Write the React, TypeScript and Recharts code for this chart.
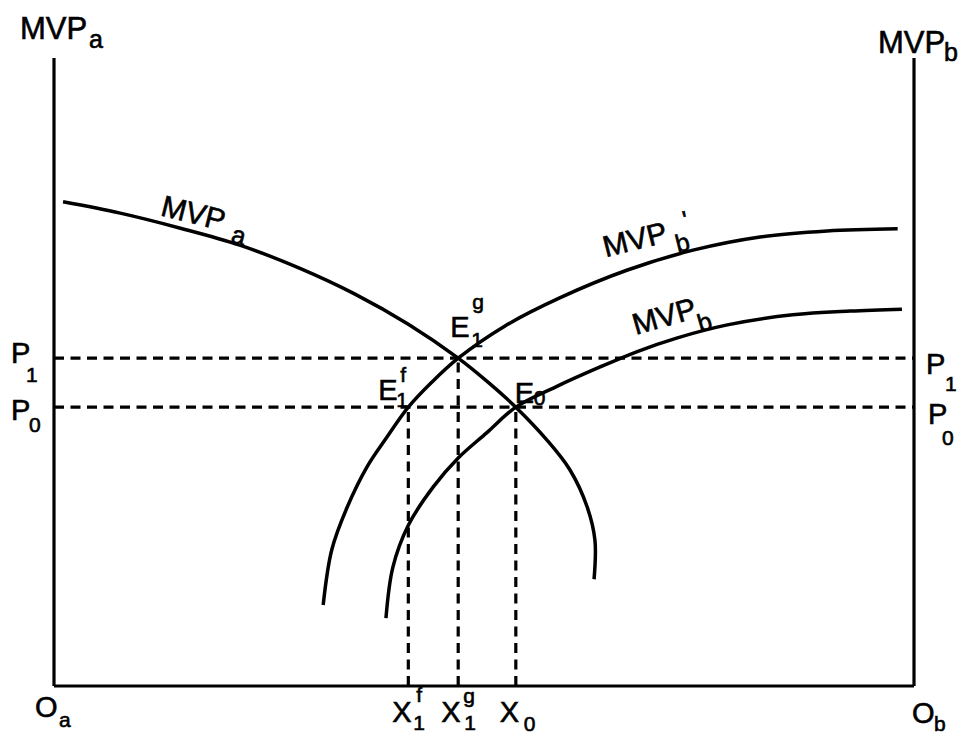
import React from 'react';
import { LineChart, Line, XAxis, YAxis, ReferenceLine, ReferenceDot } from 'recharts';

// curves, x: 0..100 from O_a to O_b, y: 0..100 bottom to top
const mvpA = [
  { x: 1.05, y: 77.1 }, { x: 7.7, y: 75.3 }, { x: 14.7, y: 72.9 }, { x: 21.6, y: 70.2 },
  { x: 28.6, y: 66.5 }, { x: 35.0, y: 62.4 }, { x: 41.2, y: 57.6 }, { x: 47.0, y: 52.2 },
  { x: 50.7, y: 48.1 }, { x: 53.7, y: 44.4 }, { x: 57.3, y: 39.2 }, { x: 60.0, y: 34.4 },
  { x: 62.0, y: 28.5 }, { x: 62.9, y: 23.2 }, { x: 62.8, y: 17.0 },
];
const mvpBPrime = [
  { x: 31.3, y: 12.9 }, { x: 32.3, y: 21.7 }, { x: 34.1, y: 28.5 }, { x: 36.4, y: 34.9 },
  { x: 38.7, y: 39.6 }, { x: 41.2, y: 44.4 }, { x: 43.95, y: 48.4 }, { x: 47.0, y: 52.2 },
  { x: 52.4, y: 57.3 }, { x: 58.8, y: 61.8 }, { x: 66.6, y: 66.2 }, { x: 74.3, y: 69.4 },
  { x: 82.1, y: 71.5 }, { x: 89.9, y: 72.45 }, { x: 98.1, y: 72.8 },
];
const mvpB = [
  { x: 38.6, y: 10.8 }, { x: 39.4, y: 18.9 }, { x: 41.2, y: 25.6 }, { x: 44.1, y: 31.7 },
  { x: 47.0, y: 36.3 }, { x: 50.3, y: 40.3 }, { x: 53.7, y: 44.4 }, { x: 58.3, y: 47.6 },
  { x: 63.5, y: 50.8 }, { x: 67.9, y: 53.3 }, { x: 72.4, y: 55.4 }, { x: 78.3, y: 57.5 },
  { x: 85.9, y: 59.1 }, { x: 92.6, y: 59.7 }, { x: 98.6, y: 60.0 },
];

const P0 = 44.4;
const P1 = 52.2;
const X1f = 41.2;
const X1g = 47.0;
const X0 = 53.7;

const priceTicks = [P0, P1];
const priceText = [['P', '0', ''], ['P', '1', '']];
const xTicks = [0, X1f, X1g, X0, 100];
const xText = [['O', 'a', ''], ['X', '1', 'f'], ['X', '1', 'g'], ['X', '0', ''], ['O', 'b', '']];

const points = [
  { x: X1g, y: P1, text: ['E', '1', 'g'] },
  { x: X1f, y: P0, text: ['E', '1', 'f'] },
  { x: X0, y: P0, text: ['E', '0', ''] },
];
const curveNames = [
  { x: 14.7, y: 72.9, text: ['MVP', 'a', ''] },
  { x: 66.6, y: 66.2, text: ['MVP', 'b', "'"] },
  { x: 72.4, y: 55.4, text: ['MVP', 'b', ''] },
];
const titles = [
  { x: 0, y: 100, text: ['MVP', 'a', ''] },
  { x: 100, y: 100, text: ['MVP', 'b', ''] },
];

// layout: offsets in px from the anchor, base / sub / sup
type Lay = { b: number[]; s?: number[]; p?: number[]; dx?: number; dy?: number; rot?: number };
const xTickLay: Lay[] = [
  { b: [-19, 31], s: [5, 41] },
  { b: [-16, 36], s: [5, 44], p: [8, 16] },
  { b: [-17, 36], s: [6, 44], p: [5, 17] },
  { b: [-16, 36], s: [8, 45] },
  { b: [-2, 37], s: [20, 45] },
];
const leftTickLay: Lay[] = [
  { b: [-43, 13], s: [-25, 25] },
  { b: [-43, 5], s: [-28, 24] },
];
const rightTickLay: Lay[] = [
  { b: [14, 17], s: [28, 38] },
  { b: [12, 16], s: [31, 33] },
];
const pointLay: Lay[] = [
  { b: [-8, -21], s: [13, -11], p: [14, -49] },
  { b: [-30, -7], s: [-12, 0], p: [-8, -25] },
  { b: [-1, -4], s: [18, -2] },
];
const curveLay: Lay[] = [
  { dx: -21, dy: -13, rot: 14, b: [0, 0], s: [75, 9] },
  { dx: -21, dy: -13, rot: -14, b: [0, 0], s: [71, 13], p: [84, -8] },
  { dx: -41, dy: -3, rot: -16, b: [0, 0], s: [63, 15] },
];
const titleLay: Lay[] = [
  { b: [-34, -19], s: [35, -10] },
  { b: [-36, -5], s: [30, 3] },
];

const FONT = '"Liberation Sans", Arial, Helvetica, sans-serif';

// centripetal Catmull-Rom curve factory, passed to Line's type
const catmullRom = (context: any) => {
  let xs: number[] = [];
  let ys: number[] = [];
  return {
    areaStart() {},
    areaEnd() {},
    lineStart() { xs = []; ys = []; },
    point(x: number, y: number) { xs.push(+x); ys.push(+y); },
    lineEnd() {
      const n = xs.length;
      if (!n) return;
      context.moveTo(xs[0], ys[0]);
      const d = (a: number, b: number) => Math.hypot(xs[b] - xs[a], ys[b] - ys[a]);
      for (let i = 0; i < n - 1; i++) {
        const i0 = i > 0 ? i - 1 : i;
        const i3 = i + 2 < n ? i + 2 : i + 1;
        const l01s = d(i0, i), l12s = d(i, i + 1), l23s = d(i + 1, i3);
        const l01 = Math.sqrt(l01s), l12 = Math.sqrt(l12s), l23 = Math.sqrt(l23s);
        let c1x = xs[i], c1y = ys[i], c2x = xs[i + 1], c2y = ys[i + 1];
        if (l01 > 1e-6) {
          const a = 2 * l01s + 3 * l01 * l12 + l12s;
          const m = 3 * l01 * (l01 + l12);
          c1x = (xs[i] * a - xs[i0] * l12s + xs[i + 1] * l01s) / m;
          c1y = (ys[i] * a - ys[i0] * l12s + ys[i + 1] * l01s) / m;
        }
        if (l23 > 1e-6) {
          const b = 2 * l23s + 3 * l23 * l12 + l12s;
          const m = 3 * l23 * (l23 + l12);
          c2x = (xs[i + 1] * b + xs[i] * l23s - xs[i3] * l12s) / m;
          c2y = (ys[i + 1] * b + ys[i] * l23s - ys[i3] * l12s) / m;
        }
        context.bezierCurveTo(c1x, c1y, c2x, c2y, xs[i + 1], ys[i + 1]);
      }
    },
  };
};

const Glyphs = ({ x, y, text, lay, fb, fs, fp }: {
  x: number; y: number; text: string[]; lay: Lay; fb: number; fs: number; fp?: number;
}) => (
  <g
    transform={`translate(${x + (lay.dx || 0)},${y + (lay.dy || 0)}) rotate(${lay.rot || 0})`}
    fontFamily={FONT}
    fill="#000"
    stroke="#000"
    strokeWidth={0.6}
  >
    <text x={lay.b[0]} y={lay.b[1]} fontSize={fb}>{text[0]}</text>
    {text[1] && lay.s && <text x={lay.s[0]} y={lay.s[1]} fontSize={fs}>{text[1]}</text>}
    {text[2] && lay.p && <text x={lay.p[0]} y={lay.p[1]} fontSize={fp || fs}>{text[2]}</text>}
  </g>
);

const XTick = (props: any) => {
  const i = xTicks.indexOf(props.payload.value);
  if (i < 0) return null;
  return <Glyphs x={props.x} y={props.y} text={xText[i]} lay={xTickLay[i]} fb={29} fs={21} />;
};
const LeftTick = (props: any) => {
  const i = priceTicks.indexOf(props.payload.value);
  if (i < 0) return null;
  return <Glyphs x={props.x} y={props.y} text={priceText[i]} lay={leftTickLay[i]} fb={29} fs={21} />;
};
const RightTick = (props: any) => {
  const i = priceTicks.indexOf(props.payload.value);
  if (i < 0) return null;
  return <Glyphs x={props.x} y={props.y} text={priceText[i]} lay={rightTickLay[i]} fb={29} fs={21} />;
};

const axisLine = { stroke: '#000', strokeWidth: 3.2 };
const dash = '10 6.5';

export default function App() {
  return (
    <div>
      <style>{'body{margin:0}'}</style>
      <LineChart width={961} height={734} margin={{ top: 58, right: 0, bottom: 0, left: 0 }}>
        <XAxis
          type="number"
          dataKey="x"
          domain={[0, 100]}
          ticks={xTicks}
          interval={0}
          tickSize={0}
          tickMargin={0}
          tickLine={false}
          height={48}
          axisLine={axisLine}
          tick={XTick}
          allowDataOverflow
        />
        <YAxis
          yAxisId="left"
          type="number"
          domain={[0, 100]}
          ticks={priceTicks}
          interval={0}
          tickSize={0}
          tickMargin={0}
          tickLine={false}
          width={54}
          axisLine={axisLine}
          tick={LeftTick}
          allowDataOverflow
        />
        <YAxis
          yAxisId="right"
          orientation="right"
          type="number"
          domain={[0, 100]}
          ticks={priceTicks}
          interval={0}
          tickSize={0}
          tickMargin={0}
          tickLine={false}
          width={47}
          axisLine={axisLine}
          tick={RightTick}
          allowDataOverflow
        />

        {priceTicks.map((p) => (
          <ReferenceLine key={`h${p}`} yAxisId="left" y={p} stroke="#000" strokeWidth={3.2} strokeDasharray={dash} />
        ))}
        {points.map((pt, i) => (
          <ReferenceLine
            key={`v${i}`}
            yAxisId="left"
            segment={[{ x: pt.x, y: 0 }, { x: pt.x, y: pt.y }]}
            stroke="#000"
            strokeWidth={3.2}
            strokeDasharray={dash}
          />
        ))}

        <Line yAxisId="left" data={mvpA} dataKey="y" type={catmullRom as any} stroke="#000" strokeWidth={3.5} dot={false} isAnimationActive={false} />
        <Line yAxisId="left" data={mvpBPrime} dataKey="y" type={catmullRom as any} stroke="#000" strokeWidth={3.5} dot={false} isAnimationActive={false} />
        <Line yAxisId="left" data={mvpB} dataKey="y" type={catmullRom as any} stroke="#000" strokeWidth={3.5} dot={false} isAnimationActive={false} />

        {points.map((pt, i) => (
          <ReferenceDot
            key={`e${i}`}
            yAxisId="left"
            x={pt.x}
            y={pt.y}
            ifOverflow="visible"
            shape={(p: any) => <Glyphs x={p.cx} y={p.cy} text={pt.text} lay={pointLay[i]} fb={29} fs={21} />}
          />
        ))}
        {curveNames.map((c, i) => (
          <ReferenceDot
            key={`c${i}`}
            yAxisId="left"
            x={c.x}
            y={c.y}
            ifOverflow="visible"
            shape={(p: any) => <Glyphs x={p.cx} y={p.cy} text={c.text} lay={curveLay[i]} fb={30} fs={25} fp={26} />}
          />
        ))}
        {titles.map((t, i) => (
          <ReferenceDot
            key={`t${i}`}
            yAxisId="left"
            x={t.x}
            y={t.y}
            ifOverflow="visible"
            shape={(p: any) => <Glyphs x={p.cx} y={p.cy} text={t.text} lay={titleLay[i]} fb={31} fs={25} />}
          />
        ))}
      </LineChart>
    </div>
  );
}
